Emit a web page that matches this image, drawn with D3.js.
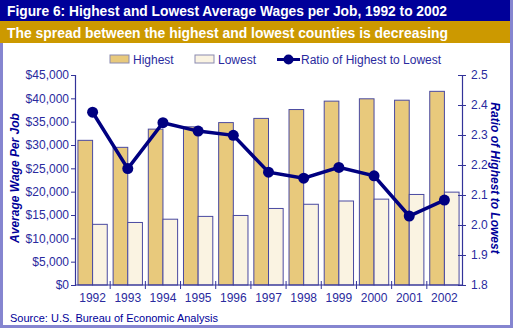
<!DOCTYPE html>
<html><head><meta charset="utf-8">
<script src="https://cdn.jsdelivr.net/npm/d3@7"></script>
<style>body{margin:0;background:#fff}svg{display:block;font-family:"Liberation Sans",Arial,sans-serif}</style>
</head><body><svg id="c" width="513" height="328"></svg>
<script>
const years = ["1992","1993","1994","1995","1996","1997","1998","1999","2000","2001","2002"];
const highest = [31000,29500,33400,33900,34800,35700,37600,39400,39900,39600,41500];
const lowest  = [13000,13400,14100,14700,14900,16400,17300,18000,18400,19400,19900];
const ratio   = [2.376,2.188,2.341,2.313,2.299,2.176,2.156,2.192,2.164,2.03,2.083];
const wageTicks = [0,5000,10000,15000,20000,25000,30000,35000,40000,45000];
const ratioTicks = [1.8,1.9,2.0,2.1,2.2,2.3,2.4,2.5];

const svg = d3.select("#c");
const W=513,H=328;
const navy="#000099", axisC="#333399", textC="#2a2a9e";
// header bars
svg.append("rect").attr("x",0).attr("y",0).attr("width",W).attr("height",21).attr("fill","#000099");
svg.append("rect").attr("x",0).attr("y",21).attr("width",W).attr("height",22).attr("fill","#cc9900");
svg.append("text").attr("x",7).attr("y",16).attr("fill","#fff").attr("font-weight","bold").attr("font-size",14)
  .attr("textLength",440).attr("lengthAdjust","spacingAndGlyphs")
  .text("Figure 6: Highest and Lowest Average Wages per Job, 1992 to 2002");
svg.append("text").attr("x",7).attr("y",38).attr("fill","#fff").attr("font-weight","bold").attr("font-size",14)
  .attr("textLength",441).attr("lengthAdjust","spacingAndGlyphs")
  .text("The spread between the highest and lowest counties is decreasing");
// frame borders
svg.append("rect").attr("x",0).attr("y",43).attr("width",3).attr("height",H-43).attr("fill","#8585d0");
svg.append("rect").attr("x",510).attr("y",0).attr("width",3).attr("height",H).attr("fill","#8585d0");
svg.append("rect").attr("x",0).attr("y",325).attr("width",W).attr("height",3).attr("fill","#8585d0");

const x0=75,x1=462,yTop=75,yBot=285;
const x = d3.scaleBand().domain(years).range([x0,x1]).paddingInner(0).paddingOuter(0);
const xs = d3.scaleBand().domain(["h","l"]).range([0,x.bandwidth()]).paddingInner(0).paddingOuter(0.2);
const y = d3.scaleLinear().domain([0,45000]).range([yBot,yTop]);
const yr = d3.scaleLinear().domain([1.8,2.5]).range([yBot,yTop]);

// bars
const g = svg.append("g");
years.forEach((yrs,i)=>{
  g.append("rect").attr("x",x(yrs)+xs("h")).attr("y",y(highest[i])).attr("width",xs.bandwidth())
   .attr("height",yBot-y(highest[i])).attr("fill","#e8c97c").attr("stroke","#4a4aa0").attr("stroke-width",1);
  g.append("rect").attr("x",x(yrs)+xs("l")).attr("y",y(lowest[i])).attr("width",xs.bandwidth())
   .attr("height",yBot-y(lowest[i])).attr("fill","#faf3e2").attr("stroke","#4a4aa0").attr("stroke-width",1);
});

// axes
const fmt = d => "$"+d3.format(",")(d);
const ay = svg.append("g").attr("transform",`translate(${x0},0)`)
  .call(d3.axisLeft(y).tickValues(wageTicks).tickFormat(fmt).tickSize(4).tickPadding(2));
const ar = svg.append("g").attr("transform",`translate(${x1},0)`)
  .call(d3.axisRight(yr).tickValues(ratioTicks).tickFormat(d3.format(".1f")).tickSize(4).tickPadding(5));
ar.selectAll(".tick line").attr("x1",-4);
const ax = svg.append("g").attr("transform",`translate(0,${yBot})`)
  .call(d3.axisBottom(x).tickSize(0).tickPadding(8));
[ay,ar,ax].forEach(a=>{
  a.select(".domain").attr("stroke",axisC).attr("stroke-width",1.2);
  a.selectAll(".tick line").attr("stroke",axisC);
  a.selectAll("text").attr("fill",textC).attr("font-size",12).attr("font-family","Liberation Sans, Arial, sans-serif");
});
ax.select(".domain").attr("d",`M${x0},0H${x1}`);
// category boundary ticks on x axis
const bounds = years.slice(1).map(d=>x(d));
ax.selectAll(".bt").data(bounds).enter().append("line")
  .attr("x1",d=>d).attr("x2",d=>d).attr("y1",-4).attr("y2",4).attr("stroke",axisC);

// ratio line
const line = d3.line().x((d,i)=>x(years[i])+x.bandwidth()/2).y(d=>yr(d));
svg.append("path").datum(ratio).attr("d",line).attr("fill","none").attr("stroke","#000080").attr("stroke-width",3.5);
svg.selectAll(".dot").data(ratio).enter().append("circle")
  .attr("cx",(d,i)=>x(years[i])+x.bandwidth()/2).attr("cy",d=>yr(d)).attr("r",5.5).attr("fill","#000080");

// axis titles
svg.append("text").attr("transform","translate(19,178) rotate(-90)").attr("text-anchor","middle")
  .attr("font-weight","bold").attr("font-style","italic").attr("font-size",12).attr("fill",navy)
  .text("Average Wage Per Job");
svg.append("text").attr("transform","translate(491,178) rotate(90)").attr("text-anchor","middle")
  .attr("font-weight","bold").attr("font-style","italic").attr("font-size",12).attr("fill",navy)
  .text("Ratio of Highest to Lowest");

// legend
const lg = svg.append("g").attr("font-size",12).attr("fill",textC);
lg.append("rect").attr("x",110).attr("y",55).attr("width",19).attr("height",8).attr("fill","#e8c97c").attr("stroke","#8a8ab0");
lg.append("text").attr("x",133).attr("y",64).text("Highest");
lg.append("rect").attr("x",195).attr("y",55).attr("width",19).attr("height",8).attr("fill","#faf3e2").attr("stroke","#8a8ab0");
lg.append("text").attr("x",218).attr("y",64).text("Lowest");
lg.append("line").attr("x1",277).attr("x2",300).attr("y1",59.5).attr("y2",59.5).attr("stroke","#000080").attr("stroke-width",3);
lg.append("circle").attr("cx",288.5).attr("cy",59.5).attr("r",5).attr("fill","#000080");
lg.append("text").attr("x",301).attr("y",64).text("Ratio of Highest to Lowest");

// source
svg.append("text").attr("x",10).attr("y",322).attr("font-size",11).attr("fill",navy)
  .text("Source: U.S. Bureau of Economic Analysis");
</script></body></html>
